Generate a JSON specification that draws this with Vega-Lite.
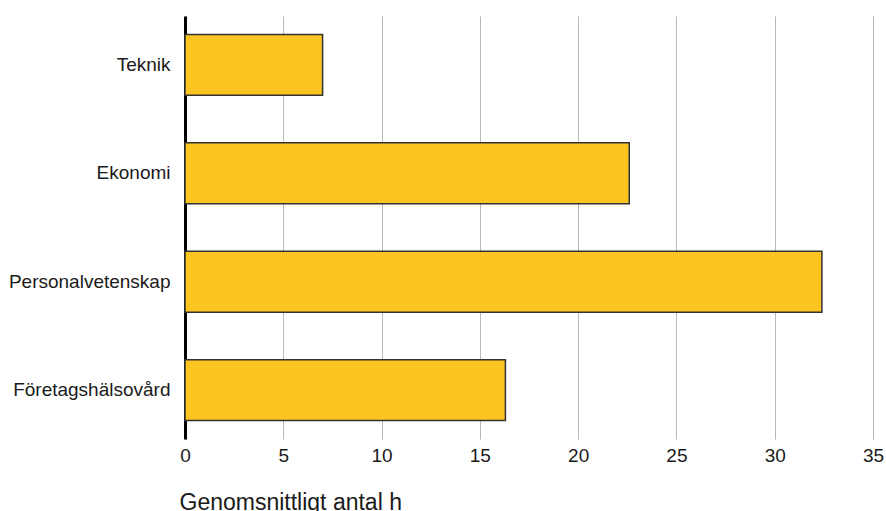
{
  "$schema": "https://vega.github.io/schema/vega-lite/v6.json",
  "width": 688,
  "height": 423,
  "autosize": {"type": "none"},
  "padding": {"left": 185, "top": 16, "right": 13, "bottom": 72},
  "background": "white",
  "config": {
    "view": {"stroke": null},
    "font": "Liberation Sans",
    "axis": {"labelFont": "Liberation Sans", "titleFont": "Liberation Sans"}
  },
  "data": {
    "values": [
      {"kategori": "Teknik", "timmar": 7.0},
      {"kategori": "Ekonomi", "timmar": 22.6},
      {"kategori": "Personalvetenskap", "timmar": 32.4},
      {"kategori": "Företagshälsovård", "timmar": 16.3}
    ]
  },
  "mark": {"type": "bar", "color": "#FCC420", "stroke": "#333333", "strokeWidth": 1.5},
  "encoding": {
    "y": {
      "field": "kategori",
      "type": "nominal",
      "sort": null,
      "scale": {"paddingInner": 0.438, "paddingOuter": 0.17},
      "axis": {
        "title": null,
        "domain": true,
        "domainColor": "#000000",
        "domainWidth": 3,
        "ticks": false,
        "grid": false,
        "labelFontSize": 19,
        "labelColor": "#1a1a1a",
        "labelPadding": 15
      }
    },
    "x": {
      "field": "timmar",
      "type": "quantitative",
      "scale": {"domain": [0, 35], "nice": false},
      "axis": {
        "title": "Genomsnittligt antal h",
        "values": [0, 5, 10, 15, 20, 25, 30, 35],
        "domain": false,
        "ticks": false,
        "grid": true,
        "gridColor": "#b8b8b8",
        "gridWidth": 1,
        "labelFontSize": 19,
        "labelColor": "#1a1a1a",
        "labelPadding": 7,
        "labelFlush": false,
        "titleFontSize": 23,
        "titleFontWeight": "normal",
        "titleColor": "#1a1a1a",
        "titleAnchor": "start",
        "titleAlign": "left",
        "titleBaseline": "alphabetic",
        "titleX": -6,
        "titleY": 70
      }
    }
  }
}
